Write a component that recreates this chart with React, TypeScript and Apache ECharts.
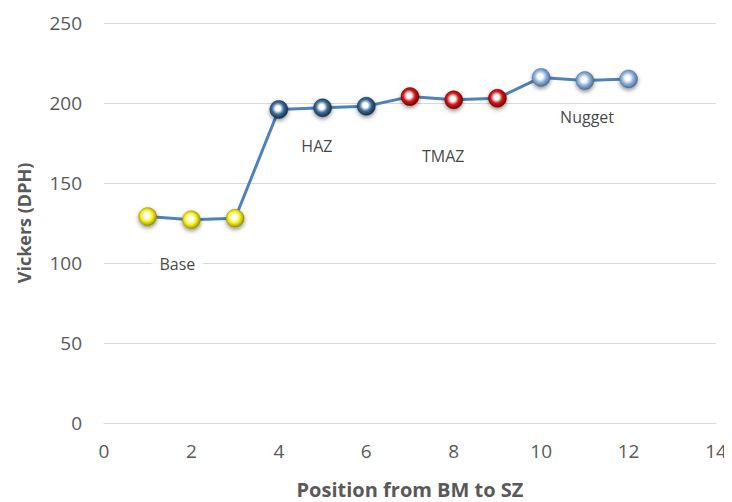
import React, { useEffect, useRef } from "react";
import * as echarts from "echarts";

const positions = [1, 2, 3, 4, 5, 6, 7, 8, 9, 10, 11, 12];
const hardness = [129, 127, 128, 196, 197, 198, 204, 202, 203, 216, 214, 215];
const zoneOfPoint = ["base", "base", "base", "haz", "haz", "haz", "tmaz", "tmaz", "tmaz", "nugget", "nugget", "nugget"];
const zoneLabels = ["Base", "HAZ", "TMAZ", "Nugget"];
const zoneLabelX = [1.68, 4.87, 7.76, 11.05];
const zoneLabelY = [99.5, 173, 167, 191];
const yTicks = [0, 50, 100, 150, 200, 250];

const zoneColors: Record<string, [string, string, string]> = {
  base: ["#ffffff", "#f2f01a", "#9a9400"],
  haz: ["#ffffff", "#3d6a94", "#14314f"],
  tmaz: ["#ffffff", "#d01818", "#7a0000"],
  nugget: ["#ffffff", "#8fb2dc", "#4f6f94"],
};

function grad(z: string) {
  const c = zoneColors[z];
  return new echarts.graphic.RadialGradient(0.45, 0.45, 0.55, [
    { offset: 0, color: c[0] },
    { offset: 0.25, color: c[0] },
    { offset: 0.6, color: c[1] },
    { offset: 1, color: c[2] },
  ]);
}

export default function App() {
  const ref = useRef<HTMLDivElement>(null);
  useEffect(() => {
    const chart = echarts.init(ref.current!, undefined, { renderer: "svg" });
    const font = "'Open Sans', 'Noto Sans', sans-serif";
    chart.setOption({
      animation: false,
      backgroundColor: "#ffffff",
      grid: { left: 96, right: 16, top: 15, bottom: 79, containLabel: false, outerBoundsMode: "none" },
      xAxis: {
        type: "value",
        min: 0,
        max: 14,
        interval: 2,
        name: "Position from BM to SZ",
        nameLocation: "middle",
        nameGap: 56,
        nameTextStyle: { fontFamily: font, fontSize: 20, fontWeight: "bold", color: "#595959" },
        axisLine: { show: true, lineStyle: { color: "#d9d9d9", width: 1 } },
        axisTick: { show: false },
        splitLine: { show: false },
        axisLabel: { fontFamily: font, fontSize: 19, color: "#595959", margin: 18 },
      },
      yAxis: {
        type: "value",
        min: yTicks[0],
        max: yTicks[yTicks.length - 1],
        interval: 50,
        name: "Vickers (DPH)",
        nameLocation: "middle",
        nameGap: 71,
        nameTextStyle: { fontFamily: font, fontSize: 18, fontWeight: "bold", color: "#595959" },
        axisLine: { show: false },
        axisTick: { show: false },
        splitLine: { show: true, lineStyle: { color: "#d9d9d9", width: 1 } },
        axisLabel: { fontFamily: font, fontSize: 19, color: "#595959", margin: 22 },
      },
      series: [
        {
          type: "scatter",
          data: zoneLabels.map((l, i) => ({ value: [zoneLabelX[i], zoneLabelY[i]], name: l })),
          symbolSize: 1,
          itemStyle: { color: "rgba(0,0,0,0)" },
          label: {
            show: true,
            position: "inside",
            formatter: (p: any) => p.name,
            fontFamily: font,
            fontSize: 16,
            color: "#111111",
            backgroundColor: "#ffffff",
            padding: [2, 8, 2, 8],
          },
          z: 1,
        },
        {
          type: "line",
          data: positions.map((x, i) => ({
            value: [x, hardness[i]],
            itemStyle: {
              color: grad(zoneOfPoint[i]),
              borderColor: zoneColors[zoneOfPoint[i]][2],
              borderWidth: 0.5,
              shadowBlur: 4,
              shadowColor: "rgba(0,0,0,0.45)",
              shadowOffsetY: 2,
            },
          })),
          symbol: "circle",
          symbolSize: 18,
          showAllSymbol: true,
          lineStyle: { color: "#4f81bd", width: 3 },
          z: 3,
        },
      ],
    });
    return () => chart.dispose();
  }, []);
  return <div ref={ref} style={{ width: 724, height: 494 }} />;
}
